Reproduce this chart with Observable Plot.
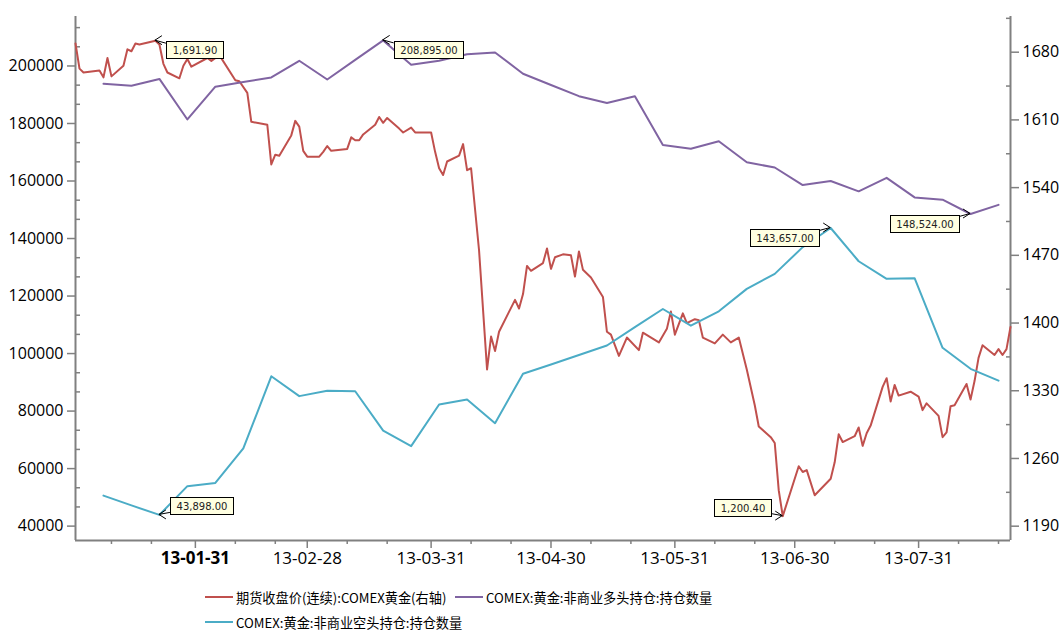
<!DOCTYPE html>
<html><head><meta charset="utf-8">
<script src="https://cdn.jsdelivr.net/npm/d3@7"></script>
<script src="https://cdn.jsdelivr.net/npm/@observablehq/plot@0.6"></script>
<style>
body{margin:0;background:#fff;}
#legend{position:relative;width:1064px;height:50px;font-family:"Noto Sans CJK SC",sans-serif;font-size:13.2px;color:#000;}
.item{position:absolute;display:flex;align-items:center;height:20px;white-space:nowrap;}
.sw{width:28px;height:2px;margin-right:3px;}
</style></head><body>
<div id="chart"></div>
<div id="legend"></div>
<script>
// ---- data ----
const priceDates = ["2013-01-01","2013-01-02","2013-01-03","2013-01-07","2013-01-08","2013-01-09","2013-01-10","2013-01-13","2013-01-14","2013-01-15","2013-01-16","2013-01-17","2013-01-21","2013-01-22","2013-01-23","2013-01-24","2013-01-27","2013-01-28","2013-01-29","2013-01-30","2013-02-03","2013-02-04","2013-02-06","2013-02-10","2013-02-11","2013-02-13","2013-02-14","2013-02-18","2013-02-19","2013-02-20","2013-02-21","2013-02-24","2013-02-25","2013-02-26","2013-02-27","2013-02-28","2013-03-03","2013-03-04","2013-03-05","2013-03-06","2013-03-10","2013-03-11","2013-03-12","2013-03-13","2013-03-14","2013-03-17","2013-03-18","2013-03-19","2013-03-20","2013-03-23","2013-03-24","2013-03-26","2013-03-27","2013-03-31","2013-04-01","2013-04-02","2013-04-03","2013-04-04","2013-04-07","2013-04-08","2013-04-09","2013-04-10","2013-04-12","2013-04-14","2013-04-15","2013-04-16","2013-04-17","2013-04-21","2013-04-22","2013-04-23","2013-04-24","2013-04-25","2013-04-28","2013-04-29","2013-04-30","2013-05-01","2013-05-03","2013-05-05","2013-05-06","2013-05-07","2013-05-08","2013-05-10","2013-05-13","2013-05-14","2013-05-15","2013-05-17","2013-05-19","2013-05-22","2013-05-23","2013-05-27","2013-05-29","2013-05-30","2013-05-31","2013-06-02","2013-06-03","2013-06-05","2013-06-06","2013-06-07","2013-06-10","2013-06-12","2013-06-14","2013-06-16","2013-06-18","2013-06-20","2013-06-21","2013-06-24","2013-06-25","2013-06-26","2013-06-27","2013-07-01","2013-07-02","2013-07-03","2013-07-05","2013-07-09","2013-07-10","2013-07-11","2013-07-12","2013-07-15","2013-07-16","2013-07-17","2013-07-18","2013-07-19","2013-07-22","2013-07-23","2013-07-24","2013-07-25","2013-07-26","2013-07-29","2013-07-31","2013-08-01","2013-08-02","2013-08-05","2013-08-06","2013-08-07","2013-08-08","2013-08-09","2013-08-12","2013-08-13","2013-08-14","2013-08-15","2013-08-16","2013-08-19","2013-08-20","2013-08-21","2013-08-22","2013-08-23"];
const priceValues = [1689,1663,1659,1661,1654,1674,1655,1666,1683,1681,1689,1688,1691.9,1688,1668,1659,1653,1666,1673,1665,1674,1671,1677,1651,1650,1638,1608,1605,1564,1574,1573,1594,1609,1603,1578,1572,1572,1577,1583,1578,1580,1592,1589,1589,1595,1605,1613,1607,1612,1601,1597,1602,1597,1597,1577,1560,1553,1567,1573,1585,1558,1560,1475,1352,1386,1371,1391,1424,1415,1430,1459,1454,1462,1477,1456,1468,1471,1470,1448,1474,1455,1447,1427,1391,1388,1366,1385,1372,1390,1380,1394,1412,1388,1410,1400,1404,1403,1385,1379,1388,1380,1385,1352,1315,1293,1282,1276,1227,1200.4,1252,1246,1248,1222,1239,1256,1285,1277,1283,1292,1273,1286,1294,1334,1343,1319,1336,1325,1329,1324,1310,1317,1304,1282,1287,1314,1315,1337,1321,1340,1364,1377,1367,1373,1367,1373,1396];

const cotDates = ["2013-01-08","2013-01-15","2013-01-22","2013-01-29","2013-02-05","2013-02-12","2013-02-19","2013-02-26","2013-03-05","2013-03-12","2013-03-19","2013-03-26","2013-04-02","2013-04-09","2013-04-16","2013-04-23","2013-04-30","2013-05-07","2013-05-14","2013-05-21","2013-05-28","2013-06-04","2013-06-11","2013-06-18","2013-06-25","2013-07-02","2013-07-09","2013-07-16","2013-07-23","2013-07-30","2013-08-06","2013-08-13","2013-08-20"];
const longValues = [193800,193100,195500,181400,192800,194400,196000,201800,195300,202100,208895,200400,201800,204100,204700,197300,193400,189500,187100,189500,172500,171200,173800,166500,164700,158600,160000,156400,161100,154300,153500,148524,151700];
const shortValues = [50600,47200,43898,53900,55000,67000,92100,85200,87100,86900,73200,67800,82300,84000,75800,93000,96200,99500,102800,109200,115500,109700,114700,122500,127700,137000,143657,132100,126000,126200,102000,94700,90600];

const seriesNames = ["期货收盘价(连续):COMEX黄金(右轴)", "COMEX:黄金:非商业多头持仓:持仓数量", "COMEX:黄金:非商业空头持仓:持仓数量"];
const seriesColors = ["#C0504D", "#8064A2", "#4BACC6"];

const leftTicks = [40000, 60000, 80000, 100000, 120000, 140000, 160000, 180000, 200000];
const rightTicks = [1190, 1260, 1330, 1400, 1470, 1540, 1610, 1680];
const xMajorTicks = ["2013-01-31","2013-02-28","2013-03-31","2013-04-30","2013-05-31","2013-06-30","2013-07-31"];
const xBoldTick = ["2013-01-31"];
const xMinorTicks = ["2013-01-10","2013-01-20","2013-02-10","2013-02-20","2013-03-10","2013-03-20","2013-04-10","2013-04-20","2013-05-10","2013-05-20","2013-06-10","2013-06-20","2013-07-10","2013-07-20","2013-08-10","2013-08-20"];
const xDomain = ["2013-01-01", "2013-08-23"];
const leftDomain = [35000, 217200];
const rightDomain = [1175.2, 1716.9];

// ---- helpers ----
const parse = d3.utcParse("%Y-%m-%d");
const toLeft = p => leftDomain[0] + (p - rightDomain[0]) * (leftDomain[1] - leftDomain[0]) / (rightDomain[1] - rightDomain[0]);
const fromLeft = v => rightDomain[0] + (v - leftDomain[0]) * (rightDomain[1] - rightDomain[0]) / (leftDomain[1] - leftDomain[0]);

const price = priceDates.map((d, i) => ({date: parse(d), value: priceValues[i], y: toLeft(priceValues[i])}));
const long = cotDates.map((d, i) => ({date: parse(d), value: longValues[i], y: longValues[i]}));
const short = cotDates.map((d, i) => ({date: parse(d), value: shortValues[i], y: shortValues[i]}));

const leftMinor = d3.range(40000 - 20000/3, 217200, 20000/3).filter(v => v >= leftDomain[0] && v <= leftDomain[1] && Math.abs(((v - 40000) / 20000) - Math.round((v - 40000) / 20000)) > 0.01);
const rightMinor = d3.range(1155, 1720, 70).filter(v => v >= rightDomain[0] && v <= rightDomain[1]);

const fmt = d3.format(",.2f");
const pick = (arr, kind) => kind === "max" ? d3.greatest(arr, d => d.value) : d3.least(arr, d => d.value);
const annSpec = [
  [price, "max", "right", "below"],
  [long, "max", "right", "below"],
  [long, "min", "left", "below"],
  [short, "max", "left", "below"],
  [short, "min", "right", "above"],
  [price, "min", "left", "above"]
];
const annots = annSpec.map(([arr, kind, side, vert]) => {
  const p = pick(arr, kind);
  return {date: p.date, y: p.y, label: fmt(p.value), side, vert};
});

const measureCtx = document.createElement("canvas").getContext("2d");
measureCtx.font = "10px 'DejaVu Sans'";

const axisColor = "#808080";
const chart = Plot.plot({
  width: 1064, height: 580,
  marginLeft: 75, marginRight: 54, marginTop: 16, marginBottom: 40,
  style: {fontFamily: "'Open Sans', sans-serif", fontSize: "16px", color: "#000", background: "#fff"},
  x: {type: "utc", domain: xDomain.map(parse)},
  y: {domain: leftDomain, label: null},
  marks: [
    Plot.ruleX([parse(xDomain[0])], {stroke: axisColor, strokeWidth: 2}),
    Plot.ruleX([parse(xDomain[1])], {stroke: axisColor, strokeWidth: 2}),
    Plot.ruleY([leftDomain[0]], {stroke: axisColor, strokeWidth: 2}),
    Plot.axisY(leftTicks, {anchor: "left", tickSize: 8, tickPadding: 4, tickFormat: d => String(d), stroke: axisColor, strokeWidth: 1.5, fill: "#000", fontSize: 16, label: null}),
    Plot.axisY(leftMinor, {anchor: "left", tickSize: -5, tickFormat: () => "", stroke: axisColor, strokeWidth: 1.5, label: null}),
    Plot.axisY(rightTicks.map(toLeft), {anchor: "right", tickSize: 8, tickPadding: 4, tickFormat: v => String(Math.round(fromLeft(v))), stroke: axisColor, strokeWidth: 1.5, fill: "#000", fontSize: 16, label: null}),
    Plot.axisY(rightMinor.map(toLeft), {anchor: "right", tickSize: -5, tickFormat: () => "", stroke: axisColor, strokeWidth: 1.5, label: null}),
    Plot.axisX(xMajorTicks.filter(d => !xBoldTick.includes(d)).map(parse), {tickSize: 8, tickPadding: 3, tickFormat: d3.utcFormat("%y-%m-%d"), stroke: axisColor, strokeWidth: 1.5, fill: "#000", fontSize: 17, label: null}),
    Plot.axisX(xBoldTick.map(parse), {tickSize: 8, tickPadding: 3, tickFormat: d3.utcFormat("%y-%m-%d"), stroke: axisColor, strokeWidth: 1.5, fill: "#000", fontSize: 17, fontWeight: "bold", label: null}),
    Plot.axisX(xMinorTicks.map(parse), {tickSize: 4, tickFormat: () => "", stroke: axisColor, strokeWidth: 1.5, label: null}),
    Plot.line(price, {x: "date", y: "y", stroke: seriesColors[0], strokeWidth: 2}),
    Plot.line(long, {x: "date", y: "y", stroke: seriesColors[1], strokeWidth: 2}),
    Plot.line(short, {x: "date", y: "y", stroke: seriesColors[2], strokeWidth: 2}),
    Plot.text(annots, {
      x: "date", y: "y", text: "label",
      render(index, scales, values) {
        const g = d3.create("svg:g");
        for (const i of index) {
          const a = annots[i];
          const px = values.x[i], py = values.y[i];
          const w = Math.round(measureCtx.measureText(a.label).width) + 12, h = 17;
          const s = a.side === "right" ? 1 : -1;
          const bx = a.side === "right" ? px + 11 : px - 11 - w;
          const by = a.vert === "below" ? py + 1 : py - h;
          const cx = a.side === "right" ? bx : bx + w;
          const cy = a.vert === "below" ? by + 2 : by + h - 2;
          g.append("path")
            .attr("d", `M${px + s * 7},${py - 4.5}L${px},${py}L${px + s * 7},${py + 4.5}M${px},${py}L${cx},${cy}`)
            .attr("fill", "none").attr("stroke", "#000").attr("stroke-width", 1);
          g.append("rect").attr("x", Math.round(bx) + 0.5).attr("y", Math.round(by) + 0.5)
            .attr("width", w).attr("height", h)
            .attr("fill", "#FFFFE1").attr("stroke", "#000").attr("stroke-width", 1);
          g.append("text").attr("x", Math.round(bx) + 0.5 + w / 2).attr("y", Math.round(by) + 0.5 + h / 2 + 0.5)
            .attr("text-anchor", "middle").attr("dominant-baseline", "central")
            .attr("font-family", "'DejaVu Sans'").attr("font-size", 10).attr("fill", "#222")
            .text(a.label);
        }
        return g.node();
      }
    })
  ]
});
document.getElementById("chart").append(chart);

// ---- legend (HTML, below the SVG) ----
const legendPos = [[205, 7], [455, 7], [205, 32]];
const legend = document.getElementById("legend");
seriesNames.forEach((name, i) => {
  const it = document.createElement("div");
  it.className = "item";
  it.style.left = legendPos[i][0] + "px";
  it.style.top = legendPos[i][1] + "px";
  it.innerHTML = `<span class="sw" style="background:${seriesColors[i]}"></span><span>${name}</span>`;
  legend.append(it);
});
</script>
</body></html>
